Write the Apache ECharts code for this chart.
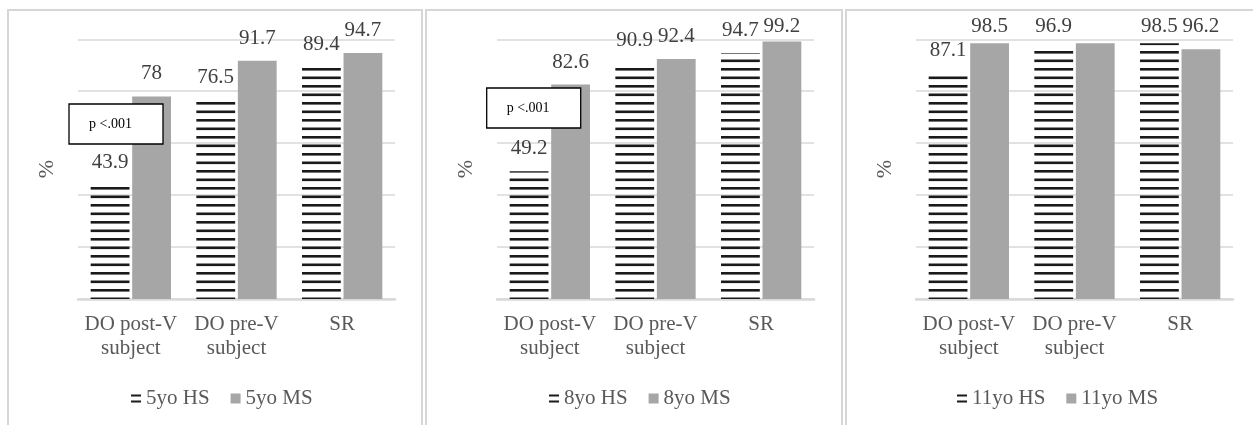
<!DOCTYPE html>
<html>
<head>
<meta charset="utf-8">
<script src="https://cdn.jsdelivr.net/npm/echarts@6/dist/echarts.min.js"></script>
<style>
html,body{margin:0;padding:0;background:#fff;}
#chart{width:1253px;height:425px;}
</style>
</head>
<body>
<div id="chart"></div>
<script>
// ---- data ----
const categories = ['DO post-V\nsubject', 'DO pre-V\nsubject', 'SR'];
const seriesNames5 = ['5yo HS', '5yo MS'];
const seriesNames8 = ['8yo HS', '8yo MS'];
const seriesNames11 = ['11yo HS', '11yo MS'];
const hs5 = [43.9, 76.5, 89.4];
const ms5 = [78, 91.7, 94.7];
const hs8 = [49.2, 90.9, 94.7];
const ms8 = [82.6, 92.4, 99.2];
const hs11 = [87.1, 96.9, 98.5];
const ms11 = [98.5, 98.5, 96.2];
const ms11LabelShown = [true, false, true];
const pLabel = 'p <.001';
const yTicks = [0, 20, 40, 60, 80, 100];

// ---- layout / style ----
const FONT = "'Liberation Serif', 'Times New Roman', serif";
const TXT = '#595959';
const GRID_TOP = 39.3, GRID_H = 259.7;
const GRID_BOTTOM_PX = GRID_TOP + GRID_H;
const panels = [
  {names: seriesNames5, hs: hs5, ms: ms5, msShow: [true, true, true], gridLeft: 78, legendLeft: 126, box: [8, 414], p: {x: 69, y: 104}},
  {names: seriesNames8, hs: hs8, ms: ms8, msShow: [true, true, true], gridLeft: 497, legendLeft: 544, box: [426, 416], p: {x: 486.7, y: 88}},
  {names: seriesNames11, hs: hs11, ms: ms11, msShow: ms11LabelShown, gridLeft: 916, legendLeft: 952, box: [846, 430], p: null}
];
const GRID_W = 317;

// striped pattern
const pc = document.createElement('canvas');
pc.width = 4; pc.height = 17;
const pctx = pc.getContext('2d');
pctx.fillStyle = '#1a1a1a';
pctx.fillRect(0, 0, 4, 2.6);
pctx.fillRect(0, 8.5, 4, 2.6);

function labelDist(v) {
  const top = GRID_BOTTOM_PX - v / 100 * GRID_H;
  return Math.min(12, top - 37);
}

const grids = [], xAxes = [], yAxes = [], series = [], legends = [], graphics = [];
panels.forEach((pn, i) => {
  grids.push({left: pn.gridLeft, top: GRID_TOP, width: GRID_W, height: GRID_H});
  xAxes.push({
    type: 'category', gridIndex: i, data: categories,
    axisLine: {lineStyle: {color: '#d9d9d9', width: 2.5}},
    axisTick: {show: false},
    axisLabel: {color: TXT, fontFamily: FONT, fontSize: 21, lineHeight: 24, margin: 13, interval: 0}
  });
  yAxes.push({
    type: 'value', gridIndex: i, min: yTicks[0], max: yTicks[yTicks.length - 1], interval: yTicks[1] - yTicks[0],
    name: '%', nameLocation: 'middle', nameRotate: 90, nameGap: 20,
    nameTextStyle: {color: TXT, fontFamily: FONT, fontSize: 22},
    axisLine: {show: false}, axisTick: {show: false}, axisLabel: {show: false},
    splitLine: {lineStyle: {color: '#d9d9d9', width: 1.5}}
  });
  const mkLabel = (v, show) => ({
    show: show, position: 'top', distance: labelDist(v),
    color: '#404040', fontFamily: FONT, fontSize: 21
  });
  series.push({
    type: 'bar', name: pn.names[0], xAxisIndex: i, yAxisIndex: i,
    barGap: '7%', barCategoryGap: '24%', z: 2,
    itemStyle: {color: {image: pc, repeat: 'repeat'}},
    data: pn.hs.map(v => ({value: v, label: mkLabel(v, true)}))
  });
  series.push({
    type: 'bar', name: pn.names[1], xAxisIndex: i, yAxisIndex: i,
    barGap: '7%', barCategoryGap: '24%', z: 2,
    itemStyle: {color: '#a6a6a6'},
    data: pn.ms.map((v, k) => ({value: v, label: mkLabel(v, pn.msShow[k])}))
  });
  legends.push({
    left: pn.legendLeft, top: 383, itemWidth: 10, itemHeight: 10, itemGap: 21,
    textStyle: {color: TXT, fontFamily: FONT, fontSize: 21},
    data: [
      {name: pn.names[0], icon: 'path://M0,0H10V2H0Z M0,6H10V8H0Z', itemStyle: {color: '#1a1a1a'}},
      {name: pn.names[1], icon: 'rect', itemStyle: {color: '#a6a6a6'}}
    ],
    selectedMode: false
  });
  graphics.push({
    type: 'rect', z: -10, silent: true,
    shape: {x: pn.box[0], y: 10, width: pn.box[1], height: 440},
    style: {fill: null, stroke: '#d6d6d6', lineWidth: 2}
  });
  if (pn.p) {
    graphics.push({
      type: 'rect', z: 100, silent: true,
      shape: {x: pn.p.x, y: pn.p.y, width: 94, height: 40},
      style: {fill: '#fff', stroke: '#000', lineWidth: 1.3}
    });
    graphics.push({
      type: 'text', z: 101, silent: true, x: pn.p.x + 20, y: pn.p.y + 20,
      style: {text: pLabel, fill: '#000', font: "14px 'Liberation Serif', serif", verticalAlign: 'middle'}
    });
  }
});

const chart = echarts.init(document.getElementById('chart'), null, {renderer: 'canvas'});
chart.setOption({
  backgroundColor: '#fff',
  animation: false,
  grid: grids, xAxis: xAxes, yAxis: yAxes, series: series, legend: legends,
  graphic: {z: 100, elements: graphics}
});
</script>
</body>
</html>
